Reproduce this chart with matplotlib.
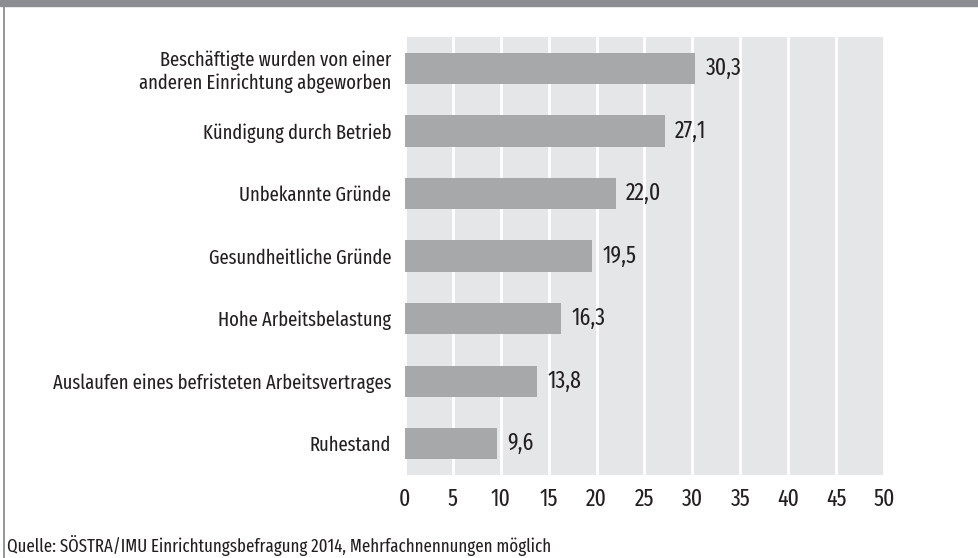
import numpy as np
import matplotlib.pyplot as plt

# Daten
kategorien = [
    "Beschäftigte wurden von einer\nanderen Einrichtung abgeworben",
    "Kündigung durch Betrieb",
    "Unbekannte Gründe",
    "Gesundheitliche Gründe",
    "Hohe Arbeitsbelastung",
    "Auslaufen eines befristeten Arbeitsvertrages",
    "Ruhestand",
]
werte = [30.3, 27.1, 22.0, 19.5, 16.3, 13.8, 9.6]
x_ticks = [0, 5, 10, 15, 20, 25, 30, 35, 40, 45, 50]
quelle = "Quelle: SÖSTRA/IMU Einrichtungsbefragung 2014, Mehrfachnennungen möglich"

plt.rcParams['font.family'] = ['Fira Sans Extra Condensed', 'DejaVu Sans']
textfarbe = '#231f20'

fig = plt.figure(figsize=(9.79, 5.58), dpi=100)
ax = fig.add_axes([405 / 979, 1 - 475 / 558, (884 - 405) / 979, (475 - 37) / 558])

y = np.arange(len(kategorien))
ax.barh(y, werte, height=0.5, color='#a7a8aa', zorder=3)
for yi, w in zip(y, werte):
    ax.text(w + 1.1, yi, f"{w:.1f}".replace('.', ','), va='center', ha='left',
            fontsize=17, color=textfarbe)

ax.set_facecolor('#e5e6e8')
ax.set_xlim(0, 50)
ax.set_ylim(len(kategorien) - 0.5, -0.5)
ax.set_xticks(x_ticks)
ax.set_xticklabels([str(t) for t in x_ticks], fontsize=17, color=textfarbe)
ax.set_yticks(y)
ax.set_yticklabels(kategorien, fontsize=14.5, color=textfarbe, ha='right',
                   multialignment='right', linespacing=1.2)
ax.tick_params(length=0)
ax.tick_params(axis='x', pad=9)
ax.tick_params(axis='y', pad=10)
ax.grid(axis='x', color='white', linewidth=2, zorder=1)
ax.set_axisbelow(True)
for s in ax.spines.values():
    s.set_visible(False)

# Rahmen oben und links
fig.patches.append(plt.Rectangle((0, 1 - 6 / 558), 1, 6 / 558, transform=fig.transFigure,
                                 color='#8c8d90', zorder=5))
fig.add_artist(plt.Line2D([4.5 / 979, 4.5 / 979], [0, 1], transform=fig.transFigure,
                          color='#8c8d90', linewidth=1.3))

fig.text(7 / 979, 1 - 546 / 558, quelle, fontsize=13.2, color=textfarbe, va='center', ha='left')

fig.savefig('out.png', dpi=100)
